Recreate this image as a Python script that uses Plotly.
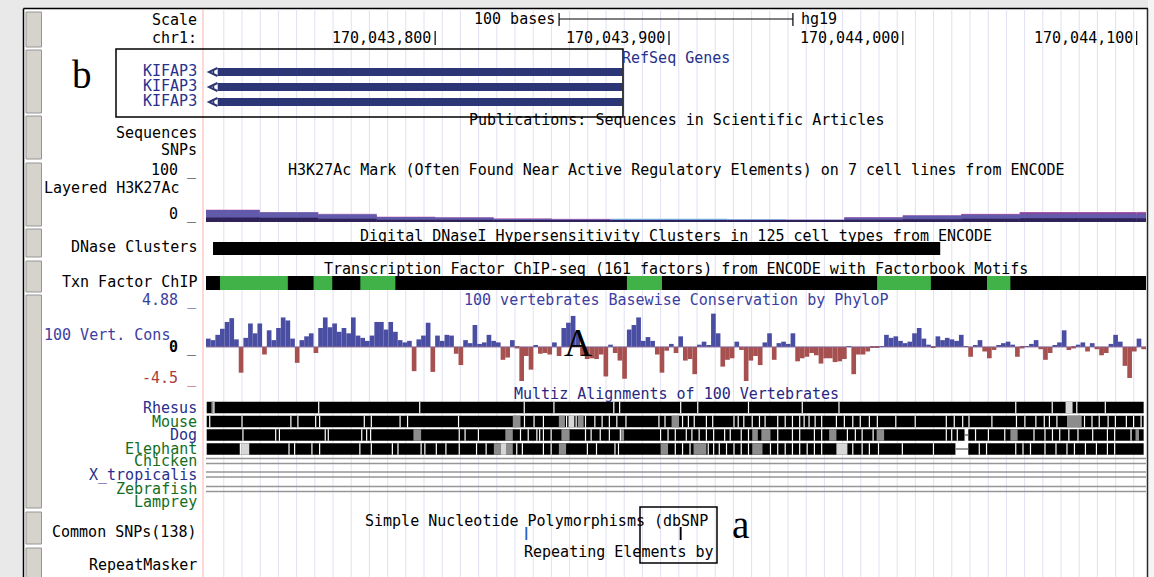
import plotly.graph_objects as go

# ---------------- data (genomic) ----------------
WIN_START, WIN_END = 170043702, 170044104          # chr1 window (end exclusive)
RULER_TICKS = [170043800, 170043900, 170044000, 170044100]
RULER_LABELS = ["170,043,800", "170,043,900", "170,044,000", "170,044,100"]
SCALE_BAR_BP = 100

GENE_NAMES = ["KIFAP3", "KIFAP3", "KIFAP3"]
GENE_STARTS = [170043707, 170043707, 170043707]
GENE_ENDS = [170043880, 170043880, 170043880]

H3K_BIN_STARTS = [170043700, 170043725, 170043750, 170043775, 170043800, 170043825,
                  170043850, 170043875, 170043900, 170043925, 170043950, 170043975,
                  170044000, 170044025, 170044050, 170044075, 170044100]
H3K_BIN_BP = 25
H3K_GM12878 = [27, 22, 18, 12, 11, 8, 7, 6, 6, 5, 5, 11, 15, 18, 22, 22, 22]
H3K_HUVEC = [5, 4, 3, 3, 3, 3, 4, 7, 7, 6, 5, 4, 4, 4, 4, 4, 4]
H3K_NHEK = [20, 17, 14, 9, 8, 6, 5, 4, 4, 4, 4, 9, 13, 17, 21, 21, 21]
H3K_K562 = [26, 21, 17, 11, 10, 7, 6, 5, 5, 5, 5, 10, 14, 16, 17, 17, 17]
H3K_HSMM = [10, 9, 7, 5, 5, 4, 3, 3, 3, 3, 3, 5, 6, 7, 8, 8, 8]

DNASE_START, DNASE_END = 170043705, 170044016
TF_START, TF_END = 170043702, 170044104
MOTIF_STARTS = [170043708, 170043748, 170043768, 170043882, 170043989, 170044036]
MOTIF_ENDS = [170043737, 170043756, 170043783, 170043897, 170044012, 170044046]

CONS_BIN_BP = 2
CONS_MAX, CONS_MIN = 4.88, -4.5
CONS_VALUES = [
    1.1, 0.9, 1.6, 2.4, 3.3, 3.8, 1.0, -3.4, 1.2, 3.1,
    1.8, 3.1, -1.0, 2.2, 0.9, 2.5, 3.9, 3.5, 1.1, -2.1,
    0.9, 1.4, 1.8, -0.8, 2.5, 3.9, 2.6, 3.1, 2.0, 2.5,
    1.8, 3.9, 1.5, 1.2, 0.8, 1.5, 3.3, 3.3, 2.3, 3.3,
    2.0, 0.9, 0.6, 0.8, -3.2, 1.0, 1.5, 3.2, -3.3, 1.5,
    0.8, 1.6, 1.5, -0.9, -2.4, 0.9, 0.5, 2.9, 0.4, 0.6,
    1.6, 0.8, 0.6, -1.7, -1.4, 0.9, -0.2, -4.5, -1.2, -3.0,
    0.2, -0.9, -0.8, -1.0, 0.6, -1.2, 2.5, 3.2, 4.1, 2.0,
    -1.2, -1.6, -1.5, -1.6, -1.0, -3.9, 0.3, -0.8, -1.8, -4.2,
    2.3, 2.9, 3.9, 0.8, 1.3, 0.8, -1.0, -3.4, -0.5, 0.4,
    -0.8, 1.4, -1.8, -1.6, -3.6, 0.3, 0.7, 0.2, 4.4, 1.8,
    -2.6, -1.7, -1.5, 0.7, -0.4, -4.5, -1.8, -1.2, -2.4, 0.6,
    1.8, -1.7, 0.5, 0.7, 0.4, 1.8, -1.9, -1.5, -1.3, -0.8,
    -1.1, -2.2, -1.5, -1.5, -2.0, -1.9, -1.6, 0.1, -3.6, -1.0,
    -1.0, -0.6, -0.1, -0.1, 0.1, 1.6, 1.2, 1.4, 0.8, 0.5,
    0.7, 1.8, 2.5, 1.1, 0.3, -0.1, 1.4, 0.9, 1.2, 1.0,
    0.8, 1.6, 0.1, -1.3, 0.2, 0.9, -0.6, -1.5, -0.4, 0.2,
    0.5, 0.7, 0.3, -1.3, -0.2, 0.1, 0.4, 0.9, -0.3, -1.7,
    -0.8, 0.2, 0.6, 2.2, -0.4, -0.2, 0.3, 0.6, -0.6, 0.5,
    -0.3, -1.1, -0.8, 0.4, 1.6, 0.7, -2.5, -4.1, -0.6, 1.1,
    -0.3]

MULTIZ_END_OFFSET = 401.0
RHESUS_GAPS = [3.4, 48.2, 91.4, 136.1, 148.8, 174.4, 176.9, 203.0, 210.3, 232.0, 255.0,
               270.7, 346.3, 361.9, 372.4, 384.6]
RHESUS_GREY = [(2.3, 3.2)]
RHESUS_LIGHT = [(367.6, 370.6)]
MOUSE_GAPS = [1.6, 15.4, 36.3, 39.3, 46.9, 48.6, 67.7, 70.7, 83.0, 86.2, 108.0, 136.2, 140.3,
              144.3, 154.2, 158.3, 162.3, 166.3, 169.4, 172.5, 175.7, 179.6, 193.7, 196.3,
              203.8, 206.3, 208.8, 214.0, 216.7, 225.8, 227.6, 230.0, 233.6, 236.7, 239.1,
              244.5, 247.7, 250.8, 253.9, 255.8, 257.9, 260.5, 263.3, 269.6, 273.0, 276.6,
              279.8, 283.7, 287.1, 295.0, 303.3, 316.6, 320.0, 323.6, 326.3, 336.1, 346.6,
              350.2, 354.9, 358.5, 360.7, 363.9, 375.7, 378.9, 382.0, 385.8, 388.9, 393.6,
              396.7, 399.9]
MOUSE_GREY = [(131.2, 134.5), (150.9, 153.5), (159.0, 161.5), (199.1, 202.3), (368.2, 374.5)]
MOUSE_LIGHT = [(155.0, 157.5)]
DOG_GAPS = [15.8, 29.8, 31.4, 51.0, 52.3, 66.6, 68.7, 70.4, 108.3, 110.8, 116.5, 134.5, 137.8,
            141.5, 142.7, 144.3, 147.6, 162.3, 164.7, 168.6, 172.5, 177.2, 194.4, 197.6, 200.7,
            205.4, 207.8, 210.9, 214.0, 217.1, 221.8, 224.2, 228.9, 232.0, 244.5, 250.8, 253.9,
            260.2, 263.3, 274.3, 277.7, 280.6, 285.3, 316.6, 318.9, 321.3, 329.1, 334.6, 341.6,
            354.1, 358.8, 362.0, 365.1, 369.0, 372.9, 379.2, 385.5, 388.6, 395.6]
DOG_GREY = [(88.7, 92.0), (128.0, 131.2), (152.0, 155.5), (177.5, 178.8), (233.6, 236.0),
            (237.5, 241.4), (266.5, 269.6), (286.8, 290.0), (344.0, 347.1), (397.5, 399.0)]
DOG_LIGHT = []
DOG_BREAKS = [(324.4, 326.0)]
ELEPHANT_GAPS = [14.7, 35.5, 37.9, 45.3, 48.6, 65.8, 70.7, 79.7, 82.1, 92.0, 93.6, 98.5, 102.6,
                 108.3, 115.7, 119.8, 132.9, 135.3, 144.3, 147.6, 163.1, 167.0, 174.9, 176.4,
                 200.7, 203.8, 207.0, 214.8, 217.1, 219.5, 222.6, 225.8, 228.9, 232.0, 241.4,
                 244.5, 247.7, 250.8, 253.9, 257.1, 260.2, 263.3, 276.6, 280.6, 283.7, 287.6,
                 297.8, 311.1, 330.7, 333.8, 346.3, 349.4, 352.6, 358.8, 363.5, 368.2, 371.4,
                 376.1, 380.8, 385.5, 388.6]
ELEPHANT_GREY = [(123.1, 126.0), (128.5, 131.2), (150.9, 154.0), (194.4, 197.6), (208.5, 214.0),
                 (233.6, 238.0)]
ELEPHANT_LIGHT = [(15.0, 18.5), (126.0, 128.5), (269.6, 274.3)]
ELEPHANT_BREAKS = [(320.5, 326.0)]

SNP_POSITIONS = [170043839, 170043905]

# ---------------- layout helpers (pixel space) ----------------
W, H = 1154, 577
PX_L, PX_R = 206, 1146
S = (PX_R - PX_L) / (WIN_END - WIN_START)
X2_RANGE = [WIN_START - PX_L / S, WIN_START + (W - PX_L) / S]
MONO = "DejaVu Sans Mono"
SERIF = "Liberation Serif"
BLUE_T = "rgb(40,48,140)"
GREEN_T = "rgb(20,110,30)"
NAVY = "rgb(44,54,118)"

shapes, ann = [], []


def rect(x0, x1, y0, y1, fill, xref="x", layer="above", lc=None, lw=0):
    shapes.append(dict(type="rect", xref=xref, yref="y", x0=x0, x1=x1, y0=y0, y1=y1,
                       fillcolor=fill, layer=layer,
                       line=dict(width=lw, color=lc or "rgba(0,0,0,0)")))


def line(x0, x1, y0, y1, color, width=1, xref="x", layer="above"):
    shapes.append(dict(type="line", xref=xref, yref="y", x0=x0, x1=x1, y0=y0, y1=y1,
                       layer=layer, line=dict(color=color, width=width)))


def text(x, y, s, color="black", anchor="right", xref="x", size=15, family=MONO, xshift=0):
    ann.append(dict(x=x, y=y, xref=xref, yref="y", text=s, showarrow=False, xanchor=anchor,
                    yanchor="middle", xshift=xshift,
                    font=dict(family=family, size=size, color=color)))


# background frame
rect(0, 23, 0, H, "rgb(233,233,233)", layer="below")
rect(0, W, 0, 8.5, "rgb(233,233,233)", layer="below")
rect(1148, W, 0, H, "rgb(244,244,244)", layer="below")
line(23.5, 23.5, 8.5, H, "black", 1.5, layer="below")
line(23.5, 1148, 8.5, 8.5, "black", 1.5, layer="below")
line(1147.5, 1147.5, 8.5, H, "rgb(40,40,40)", 1.5, layer="below")
for y0, y1 in [(12, 47), (50, 113), (116, 159), (163, 226), (229, 257), (261, 292),
               (295, 508), (512, 544), (548, 585)]:
    rect(26, 41.5, y0, y1, "rgb(214,211,205)", layer="below", lc="rgb(150,150,150)", lw=1)

# guidelines and window edge
for k in range(51):
    gx = 223.8 + 18.2 * k
    line(gx, gx, 9.5, H, "rgb(224,224,242)", 1, layer="below")
line(203, 203, 9.5, H, "rgb(255,175,175)", 1, layer="below")

CENTER = (WIN_START + WIN_END) / 2

# ruler
text(199, 20, "Scale")
text(199, 38, "chr1:")
for t, lab in zip(RULER_TICKS, RULER_LABELS):
    line(t, t, 31, 45, "black", 1.2, xref="x2")
    text(t, 38, lab, xref="x2", xshift=-2)
sb0, sb1 = CENTER - SCALE_BAR_BP / 2, CENTER + SCALE_BAR_BP / 2
line(sb0, sb1, 19, 19, "black", 1, xref="x2")
line(sb0, sb0, 13, 26, "black", 1.2, xref="x2")
line(sb1, sb1, 13, 26, "black", 1.2, xref="x2")
text(sb0, 19, "100 bases", xref="x2", xshift=-2)
text(sb1, 19, "hg19", anchor="left", xref="x2", xshift=6)

# RefSeq genes
text(CENTER, 58, "RefSeq Genes", BLUE_T, anchor="center", xref="x2")
for i, (name, g0, g1) in enumerate(zip(GENE_NAMES, GENE_STARTS, GENE_ENDS)):
    yc = 72 + 15 * i
    text(199, yc - 1, name, BLUE_T)
    rect(g0, g1, yc - 4, yc + 4, NAVY, xref="x2")
    shapes.append(dict(type="path", xref="x", yref="y", layer="above",
                       path=f"M 217.5 {yc-4} L 209 {yc} L 217.5 {yc+4}",
                       line=dict(color=NAVY, width=2)))
    line(213.5, 213.5, yc - 3, yc + 3, NAVY, 1.5)
rect(116, 623, 49, 117, "rgba(0,0,0,0)", lc="black", lw=1.5)
text(82, 74, "b", anchor="center", size=39, family=SERIF)

text(CENTER, 120, "Publications: Sequences in Scientific Articles", anchor="center", xref="x2")
text(199, 133, "Sequences")
text(199, 150, "SNPs")

# H3K27Ac
text(199, 170, "100 _")
text(CENTER, 170, "H3K27Ac Mark (Often Found Near Active Regulatory Elements) on 7 cell lines from ENCODE",
     anchor="center", xref="x2")
text(181, 188, "Layered H3K27Ac")
text(199, 214, "0 _")

# DNase
text(CENTER, 236, "Digital DNaseI Hypersensitivity Clusters in 125 cell types from ENCODE",
     anchor="center", xref="x2")
text(199, 247, "DNase Clusters")
rect(DNASE_START, DNASE_END, 242, 255, "black", xref="x2")

# TF ChIP
text(CENTER, 269, "Transcription Factor ChIP-seq (161 factors) from ENCODE with Factorbook Motifs",
     anchor="center", xref="x2")
text(199, 282, "Txn Factor ChIP")
rect(TF_START, TF_END, 276, 290, "black", xref="x2")
for m0, m1 in zip(MOTIF_STARTS, MOTIF_ENDS):
    rect(m0, m1, 276, 290, "rgb(64,178,72)", xref="x2")

# conservation labels
text(199, 300, "4.88 _", "rgb(60,62,160)")
text(CENTER, 300, "100 vertebrates Basewise Conservation by PhyloP", "rgb(60,62,160)",
     anchor="center", xref="x2")
text(172, 335, "100 Vert. Cons", "rgb(60,62,160)")
text(199, 347, "<b>0</b> _")
text(199, 378, "-4.5 _", "rgb(170,60,60)")
text(578, 342, "A", anchor="center", size=39, family=SERIF)

# Multiz
text(CENTER, 394, "Multiz Alignments of 100 Vertebrates", "rgb(40,40,130)", anchor="center", xref="x2")
rows = [("Rhesus", BLUE_T, RHESUS_GAPS, RHESUS_GREY, RHESUS_LIGHT, [], 407.5),
        ("Mouse", GREEN_T, MOUSE_GAPS, MOUSE_GREY, MOUSE_LIGHT, [], 421.5),
        ("Dog", BLUE_T, DOG_GAPS, DOG_GREY, DOG_LIGHT, DOG_BREAKS, 435),
        ("Elephant", GREEN_T, ELEPHANT_GAPS, ELEPHANT_GREY, ELEPHANT_LIGHT, ELEPHANT_BREAKS, 449)]
for name, col, gaps, grey, light, breaks, yc in rows:
    text(199, yc, name, col)
    y0, y1 = yc - 5.8, yc + 5.8
    rect(WIN_START + 0.3, WIN_START + MULTIZ_END_OFFSET, y0, y1, "black", xref="x2")
    for a, b in grey:
        rect(WIN_START + a, WIN_START + b, y0, y1, "rgb(140,140,140)", xref="x2")
    for a, b in light:
        rect(WIN_START + a, WIN_START + b, y0, y1, "rgb(215,215,215)", xref="x2")
    for g in gaps:
        line(WIN_START + g, WIN_START + g, y0, y1, "white", 1.2, xref="x2")
    for a, b in breaks:
        rect(WIN_START + a, WIN_START + b, y0 - 0.5, y1 + 0.5, "white", xref="x2")
        line(WIN_START + a, WIN_START + b, yc, yc, "rgb(120,120,120)", 1.5, xref="x2")
for name, col, yc in [("Chicken", GREEN_T, 461), ("X_tropicalis", BLUE_T, 474.5),
                      ("Zebrafish", GREEN_T, 489)]:
    text(199, yc, name, col)
    line(WIN_START, WIN_END, yc - 2.5, yc - 2.5, "rgb(150,150,150)", 1.3, xref="x2")
    line(WIN_START, WIN_END, yc + 2.5, yc + 2.5, "rgb(150,150,150)", 1.3, xref="x2")
text(199, 502, "Lamprey", GREEN_T)

# SNPs / repeats
text(363, 521, "Simple Nucleotide Polymorphisms (dbSNP", anchor="left")
text(199, 532, "Common SNPs(138)")
for p, c in zip(SNP_POSITIONS, ["rgb(40,100,200)", "black"]):
    rect(p - 0.4, p + 0.4, 527, 540, c, xref="x2")
text(522, 552, "Repeating Elements by", anchor="left")
text(199, 565, "RepeatMasker")
rect(640, 717, 507, 563, "rgba(0,0,0,0)", lc="black", lw=1.5)
text(740, 524, "a", anchor="center", size=39, family=SERIF)

# ---------------- traces ----------------
fig = go.Figure()
fig.add_trace(go.Scatter(x=[0, W], y=[0, H], mode="markers", marker=dict(opacity=0),
                         xaxis="x", yaxis="y", hoverinfo="skip"))

# H3K27Ac layered signal (overlaid, clipped to window)
h3k_left = [max(s, WIN_START) for s in H3K_BIN_STARTS]
h3k_right = [min(s + H3K_BIN_BP, WIN_END) for s in H3K_BIN_STARTS]
h3k_x = [(a + b) / 2 for a, b in zip(h3k_left, h3k_right)]
h3k_w = [b - a for a, b in zip(h3k_left, h3k_right)]
for vals, col in [(H3K_GM12878, "rgb(228,150,205)"), (H3K_HUVEC, "rgb(120,185,235)"),
                  (H3K_NHEK, "rgb(132,72,158)"), (H3K_K562, "rgb(98,90,170)"),
                  (H3K_HSMM, "rgb(46,34,88)")]:
    fig.add_trace(go.Bar(x=h3k_x, y=vals, width=h3k_w, marker=dict(color=col, line=dict(width=0)),
                         xaxis="x2", yaxis="y3", hoverinfo="skip"))

# PhyloP conservation
cons_x = [WIN_START + CONS_BIN_BP * i + CONS_BIN_BP / 2 for i in range(len(CONS_VALUES))]
cons_col = ["rgb(74,78,162)" if v >= 0 else "rgb(166,80,80)" for v in CONS_VALUES]
fig.add_trace(go.Bar(x=cons_x, y=CONS_VALUES, width=CONS_BIN_BP,
                     marker=dict(color=cons_col, line=dict(width=0)),
                     xaxis="x2", yaxis="y2", hoverinfo="skip"))
fig.add_trace(go.Scatter(x=[WIN_START, WIN_END], y=[0, 0], mode="lines",
                         line=dict(color="rgb(130,100,150)", width=1),
                         xaxis="x2", yaxis="y2", hoverinfo="skip"))


def dom(ypx_bottom, ypx_top):
    return [1 - ypx_bottom / H, 1 - ypx_top / H]


fig.update_layout(
    width=W, height=H, margin=dict(l=0, r=0, t=0, b=0),
    paper_bgcolor="white", plot_bgcolor="rgba(0,0,0,0)",
    showlegend=False, barmode="overlay",
    xaxis=dict(range=[0, W], visible=False, fixedrange=True, domain=[0, 1]),
    yaxis=dict(range=[H, 0], visible=False, fixedrange=True, domain=[0, 1]),
    xaxis2=dict(range=X2_RANGE, visible=False, overlaying="x", anchor="y", fixedrange=True),
    yaxis2=dict(range=[CONS_MIN, CONS_MAX], domain=dom(381, 310), visible=False,
                anchor="x2", fixedrange=True),
    yaxis3=dict(range=[0, 100], domain=dom(222, 176), visible=False, anchor="x2",
                fixedrange=True),
    shapes=shapes, annotations=ann,
)
fig.write_html("out.html", config={"displayModeBar": False},
               post_script="document.body.style.margin='0px';document.body.style.overflow='hidden';")
